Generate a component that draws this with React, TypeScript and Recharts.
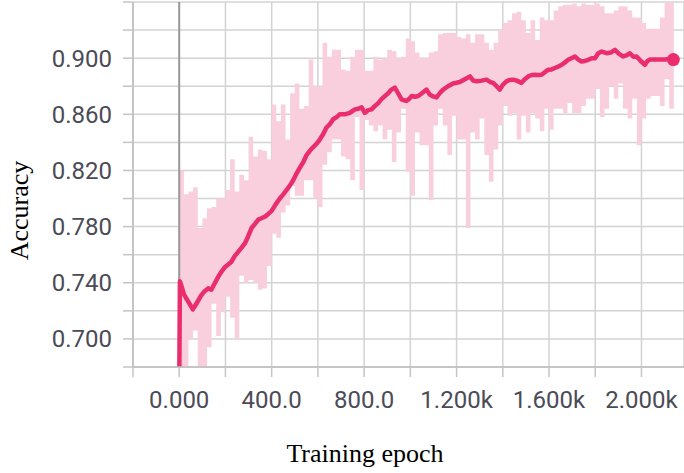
import React from "react";
import {
  ComposedChart,
  Area,
  Line,
  XAxis,
  YAxis,
  CartesianGrid,
  ReferenceLine,
  Label,
} from "recharts";

// raw accuracy, min/max of each 20-epoch bucket (bucket i starts at epoch i*20)
const RAW_BUCKET = 20;
const rawHigh = [
  0.82, 0.803, 0.805, 0.808, 0.779, 0.786, 0.793, 0.794, 0.8, 0.8,
  0.806, 0.828, 0.805, 0.817, 0.813, 0.844, 0.83, 0.835, 0.834, 0.828,
  0.867, 0.855, 0.867, 0.842, 0.875, 0.882, 0.864, 0.866, 0.899, 0.88,
  0.88, 0.911, 0.901, 0.906, 0.906, 0.892, 0.891, 0.901, 0.906, 0.906,
  0.891, 0.891, 0.901, 0.899, 0.9, 0.906, 0.905, 0.9, 0.901, 0.914,
  0.912, 0.904, 0.9, 0.9, 0.904, 0.905, 0.917, 0.918, 0.918, 0.918,
  0.915, 0.914, 0.917, 0.911, 0.917, 0.917, 0.911, 0.906, 0.911, 0.92,
  0.925, 0.927, 0.932, 0.933, 0.927, 0.918, 0.927, 0.913, 0.929, 0.927,
  0.927, 0.934, 0.937, 0.938, 0.938, 0.939, 0.937, 0.939, 0.938, 0.938,
  0.939, 0.937, 0.932, 0.932, 0.934, 0.937, 0.937, 0.934, 0.929, 0.929,
  0.925, 0.921, 0.921, 0.921, 0.929, 0.945, 0.945, 0.945,
];
const rawLow = [
  0.675, 0.68, 0.7, 0.706, 0.68, 0.68, 0.694, 0.725, 0.702, 0.719,
  0.73, 0.715, 0.7, 0.745, 0.74, 0.742, 0.74, 0.735, 0.736, 0.752,
  0.775, 0.772, 0.79, 0.795, 0.809, 0.802, 0.802, 0.813, 0.813, 0.8,
  0.794, 0.824, 0.833, 0.842, 0.842, 0.83, 0.828, 0.813, 0.858, 0.806,
  0.856, 0.852, 0.848, 0.852, 0.842, 0.849, 0.826, 0.847, 0.864, 0.819,
  0.802, 0.847, 0.838, 0.838, 0.799, 0.852, 0.864, 0.852, 0.831, 0.859,
  0.842, 0.842, 0.779, 0.847, 0.842, 0.857, 0.831, 0.812, 0.835, 0.852,
  0.866, 0.859, 0.861, 0.842, 0.859, 0.847, 0.861, 0.857, 0.848, 0.864,
  0.849, 0.864, 0.864, 0.861, 0.868, 0.861, 0.861, 0.866, 0.871, 0.871,
  0.878, 0.858, 0.864, 0.88, 0.871, 0.882, 0.864, 0.857, 0.871, 0.838,
  0.857, 0.871, 0.873, 0.873, 0.866, 0.885, 0.864, 0.864,
];

// smoothed curve
const smoothEpochs = [
  0, 3, 9, 20, 30, 45, 59, 70, 81, 95, 110, 125, 139, 155, 168, 183, 197, 212,
  226, 240, 255, 270, 284, 298, 313, 328, 342, 356, 371, 385, 399, 418, 435,
  450, 464, 478, 493, 508, 522, 537, 551, 565, 579, 594, 608, 623, 637, 652,
  666, 681, 695, 716, 738, 760, 775, 789, 803, 818, 832, 847, 861, 876, 890,
  904, 918, 933, 947, 962, 973, 983, 995, 1005, 1020, 1034, 1050, 1070, 1084,
  1095, 1113, 1127, 1142, 1163, 1185, 1200, 1214, 1236, 1258, 1272, 1287,
  1308, 1330, 1345, 1358, 1373, 1387, 1400, 1416, 1430, 1445, 1460, 1481,
  1495, 1510, 1525, 1539, 1553, 1568, 1582, 1597, 1611, 1625, 1640, 1655,
  1669, 1683, 1697, 1712, 1727, 1741, 1755, 1770, 1785, 1799, 1813, 1828,
  1849, 1867, 1885, 1903, 1921, 1935, 1950, 1965, 1979, 1997, 2015, 2026,
  2037, 2055, 2073, 2088, 2102, 2120, 2138,
];
const smoothAcc = [
  0.665, 0.741, 0.738, 0.732, 0.729, 0.725, 0.721, 0.724, 0.727, 0.731, 0.734,
  0.736, 0.735, 0.74, 0.744, 0.748, 0.751, 0.753, 0.755, 0.759, 0.762, 0.765,
  0.768, 0.773, 0.779, 0.782, 0.785, 0.786, 0.787, 0.789, 0.791, 0.796, 0.8,
  0.803, 0.806, 0.809, 0.813, 0.818, 0.822, 0.826, 0.831, 0.834, 0.8365,
  0.839, 0.842, 0.846, 0.8506, 0.853, 0.8565, 0.858, 0.86, 0.86, 0.861,
  0.8635, 0.864, 0.865, 0.861, 0.863, 0.8635, 0.866, 0.868, 0.871, 0.873,
  0.875, 0.8776, 0.879, 0.875, 0.8706, 0.87, 0.8695, 0.871, 0.873, 0.8725,
  0.873, 0.875, 0.8776, 0.874, 0.873, 0.872, 0.875, 0.8776, 0.88, 0.882,
  0.8825, 0.883, 0.885, 0.887, 0.884, 0.8835, 0.884, 0.8847, 0.883, 0.8824,
  0.88, 0.8776, 0.881, 0.8835, 0.8845, 0.8847, 0.884, 0.8824, 0.885, 0.887,
  0.888, 0.8882, 0.888, 0.8882, 0.89, 0.8918, 0.892, 0.893, 0.894, 0.8953,
  0.897, 0.8988, 0.9, 0.9012, 0.899, 0.8976, 0.898, 0.8988, 0.9, 0.9, 0.9035,
  0.9047, 0.9035, 0.904, 0.9059, 0.903, 0.9012, 0.902, 0.9035, 0.901, 0.9012,
  0.898, 0.8953, 0.898, 0.899, 0.899, 0.899, 0.899, 0.899, 0.8995, 0.899,
];

const xTicks = [-200, 0, 200, 400, 600, 800, 1000, 1200, 1400, 1600, 1800, 2000];
const xLabelTicks = [0, 400, 800, 1200, 1600, 2000];
const yTicks = [
  0.68, 0.7, 0.72, 0.74, 0.76, 0.78, 0.8, 0.82, 0.84, 0.86, 0.88, 0.9, 0.92, 0.94,
];
const yLabelTicks = [0.7, 0.74, 0.78, 0.82, 0.86, 0.9];

const rawData = rawHigh.map((hi, i) => ({
  epoch: i * RAW_BUCKET,
  range: [rawLow[i], hi],
}));
const smoothData = smoothEpochs.map((epoch, i) => ({ epoch, acc: smoothAcc[i] }));

const PINK = "#ea2d6c";
const PINK_LIGHT = "#f9cfde";
const GRID = "#d3d3d3";
const TICK_TEXT = "#4b4b56";

const fmtEpoch = (v: number) => {
  if (!xLabelTicks.includes(v)) return "";
  if (v === 0) return "0.000";
  if (v < 1000) return v.toFixed(1);
  return (v / 1000).toFixed(3) + "k";
};

const fmtAcc = (v: number) =>
  yLabelTicks.some((t) => Math.abs(t - v) < 1e-6) ? v.toFixed(3) : "";

const titleStyle = {
  fontFamily: "'Liberation Serif', 'DejaVu Serif', serif",
  fontSize: 26,
  fill: "#000",
};

export default function App() {
  const last = smoothData.length - 1;
  return (
    <div style={{ position: "absolute", left: 0, top: 0, width: 684, height: 473, background: "#fff" }}>
      <ComposedChart
        width={684}
        height={473}
        margin={{ top: 2, right: 0, bottom: 0, left: 0 }}
      >
        <CartesianGrid stroke={GRID} strokeWidth={1.5} />
        <XAxis
          dataKey="epoch"
          type="number"
          domain={[-200, 2184]}
          ticks={xTicks}
          interval={0}
          allowDataOverflow
          tickFormatter={fmtEpoch}
          tickSize={10}
          tickMargin={14}
          height={106}
          tick={{ fontSize: 24, fill: TICK_TEXT, fontFamily: "Roboto, sans-serif" }}
          tickLine={{ stroke: "#c4c4c4", strokeWidth: 1.5 }}
          axisLine={{ stroke: "#bdbdbd", strokeWidth: 1.5 }}
        >
          <Label
            content={({ viewBox }: any) => (
              <text
                x={viewBox.x + 232}
                y={462}
                textAnchor="middle"
                style={titleStyle}
              >
                Training epoch
              </text>
            )}
          />
        </XAxis>
        <YAxis
          type="number"
          domain={[0.68, 0.94]}
          ticks={yTicks}
          interval={0}
          allowDataOverflow
          tickFormatter={fmtAcc}
          tickSize={10}
          tickMargin={11}
          width={133}
          tick={{ fontSize: 24, fill: TICK_TEXT, fontFamily: "Roboto, sans-serif" }}
          tickLine={{ stroke: "#c4c4c4", strokeWidth: 1.5 }}
          axisLine={{ stroke: "#bdbdbd", strokeWidth: 1.5 }}
        >
          <Label
            content={({ viewBox }: any) => {
              const cx = viewBox.x + 28;
              const cy = viewBox.y + viewBox.height / 2 + 26;
              return (
                <text
                  x={cx}
                  y={cy}
                  textAnchor="middle"
                  transform={`rotate(-90, ${cx}, ${cy})`}
                  style={titleStyle}
                >
                  Accuracy
                </text>
              );
            }}
          />
        </YAxis>
        <ReferenceLine x={0} stroke="#9a9a9a" strokeWidth={2} />
        <Area
          data={rawData}
          dataKey="range"
          type="stepAfter"
          fill={PINK_LIGHT}
          fillOpacity={1}
          stroke="none"
          isAnimationActive={false}
        />
        <Line
          data={smoothData}
          dataKey="acc"
          type="linear"
          stroke={PINK}
          strokeWidth={4.5}
          strokeLinejoin="round"
          isAnimationActive={false}
          dot={(p: any) =>
            p.index === last ? (
              <circle key="end" cx={p.cx} cy={p.cy} r={6.5} fill={PINK} />
            ) : (
              <g key={`d-${p.index}`} />
            )
          }
          activeDot={false}
        />
      </ComposedChart>
    </div>
  );
}
